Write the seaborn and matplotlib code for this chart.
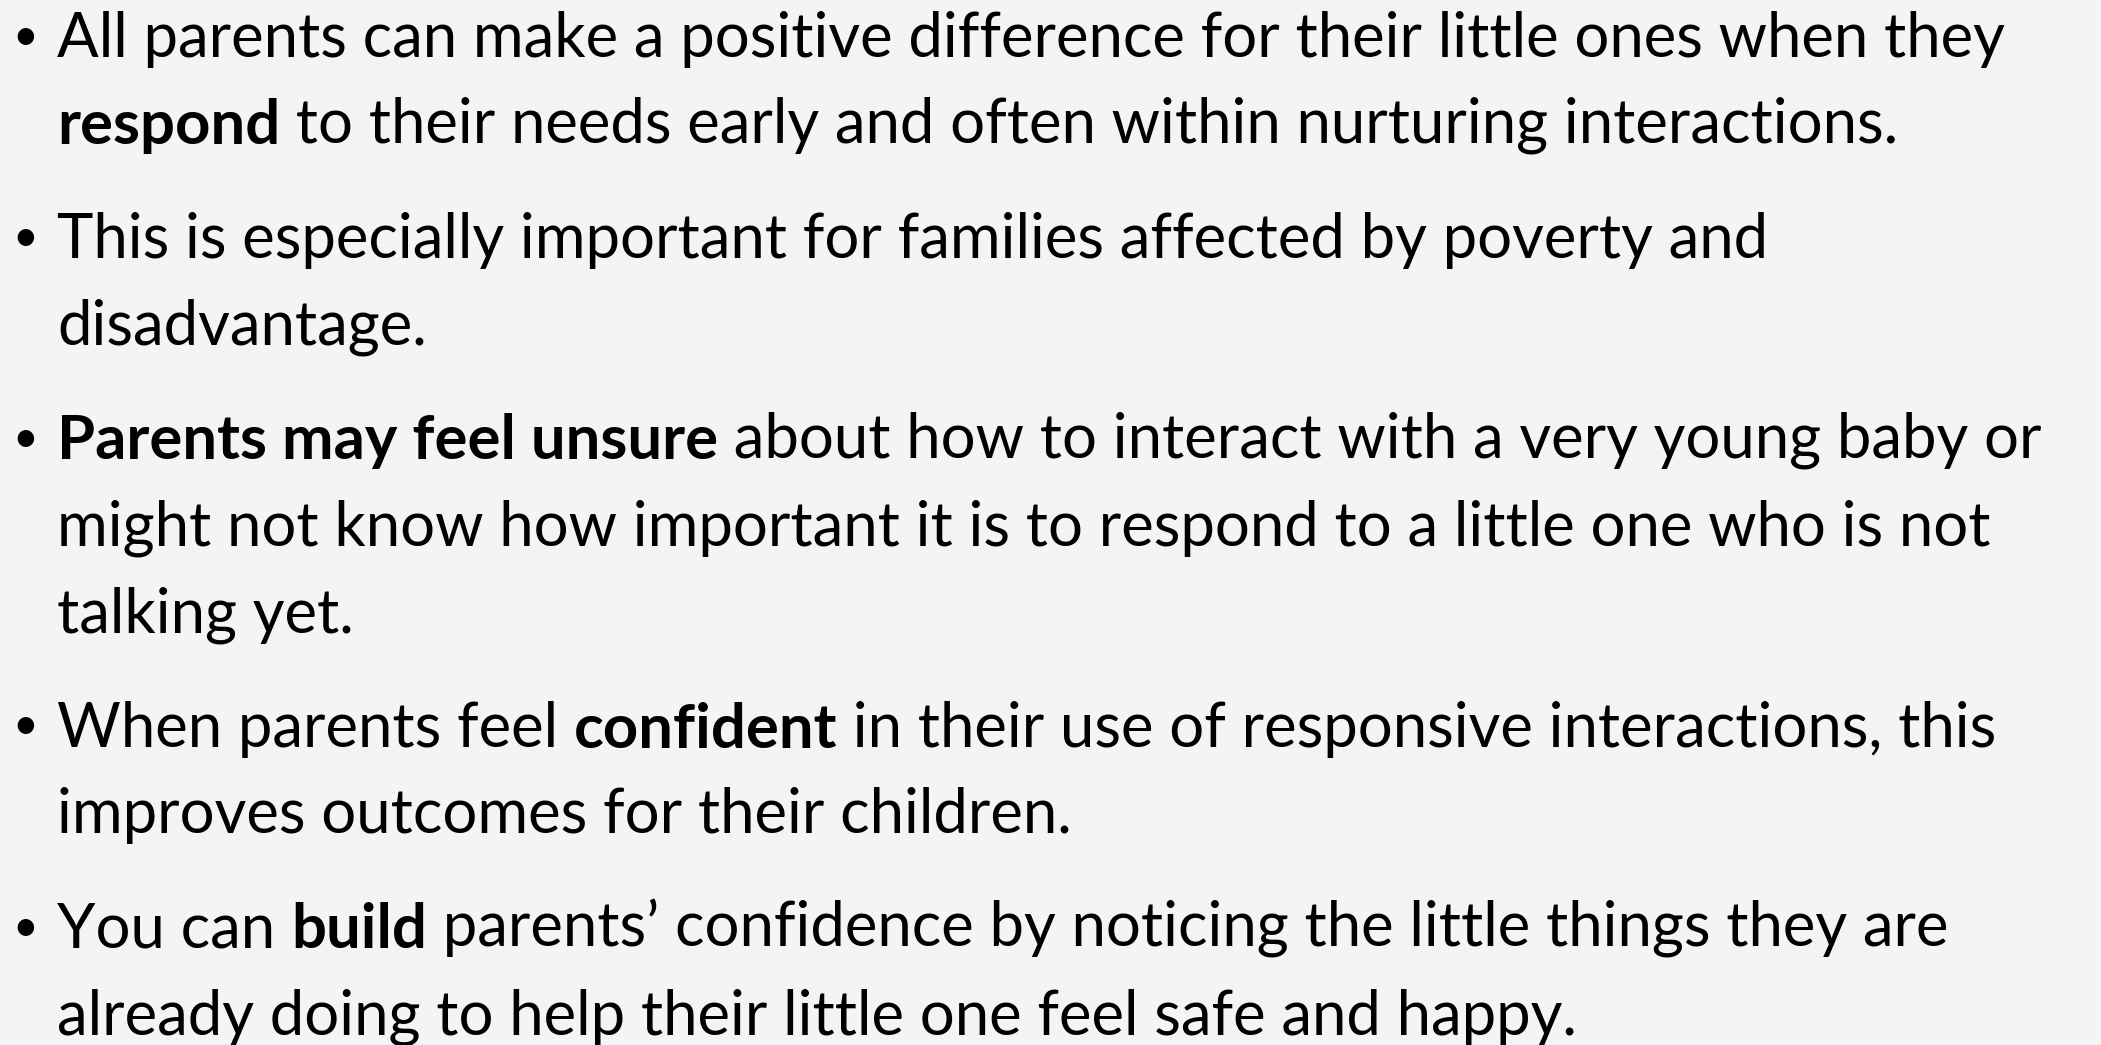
"""
Slide de texto com tópicos (bullets), recriado com seaborn/matplotlib.
"""

import matplotlib
matplotlib.use("Agg")
import matplotlib.pyplot as plt
import seaborn as sns

# Conteúdo: cada tópico é uma lista de linhas, cada linha uma lista de (texto, peso)
topico_1 = [
    [("All parents can make a positive difference for their little ones when they", "normal")],
    [("respond", "bold"), (" to their needs early and often within nurturing interactions.", "normal")],
]
topico_2 = [
    [("This is especially important for families affected by poverty and", "normal")],
    [("disadvantage.", "normal")],
]
topico_3 = [
    [("Parents may feel unsure", "bold"), (" about how to interact with a very young baby or", "normal")],
    [("might not know how important it is to respond to a little one who is not", "normal")],
    [("talking yet.", "normal")],
]
topico_4 = [
    [("When parents feel ", "normal"), ("confident", "bold"), (" in their use of responsive interactions, this", "normal")],
    [("improves outcomes for their children.", "normal")],
]
topico_5 = [
    [("You can ", "normal"), ("build", "bold"), (" parents\u2019 confidence by noticing the little things they are", "normal")],
    [("already doing to help their little one feel safe and happy.", "normal")],
]
topicos = [topico_1, topico_2, topico_3, topico_4, topico_5]

W, H = 2101, 1045
FUNDO = "#f4f4f6"
FONTES = ["Lato", "DejaVu Sans"]


def main():
    sns.set_theme(style="white")
    plt.rcParams["font.family"] = FONTES

    fig = plt.figure(figsize=(W / 100, H / 100), dpi=100, facecolor=FUNDO)
    ax = fig.add_axes([0, 0, 1, 1])
    ax.set_facecolor(FUNDO)
    ax.set_xlim(0, W)
    ax.set_ylim(H, 0)
    ax.axis("off")

    x_texto, x_bullet = 57, 25
    primeira_base = 57
    passo_linha, passo_topico = 86.5, 114.5

    # ajusta o tamanho da fonte para a primeira linha ter a largura do original
    largura_alvo = 2003 - x_texto
    teste = ax.text(x_texto, 100, topico_1[0][0][0], fontsize=48)
    fig.canvas.draw()
    bb = teste.get_window_extent()
    tamanho = 48 * largura_alvo / bb.width
    teste.remove()

    y = primeira_base
    for topico in topicos:
        ax.text(x_bullet, y - 7, "\u2022", fontsize=tamanho * 0.72,
                ha="center", va="baseline", color="black")
        for i, linha in enumerate(topico):
            if i > 0:
                y += passo_linha
            anterior = None
            for texto, peso in linha:
                if anterior is None:
                    anterior = ax.text(x_texto, y, texto, fontsize=tamanho, fontweight=peso,
                                       ha="left", va="baseline", color="black")
                    fig.canvas.draw()
                else:
                    anterior = ax.annotate(texto, xy=(1, 0), xycoords=anterior,
                                           fontsize=tamanho, fontweight=peso,
                                           ha="left", va="bottom", color="black")
        y += passo_topico

    fig.savefig("out.png", dpi=100, facecolor=FUNDO)
    plt.close(fig)


if __name__ == "__main__":
    main()
